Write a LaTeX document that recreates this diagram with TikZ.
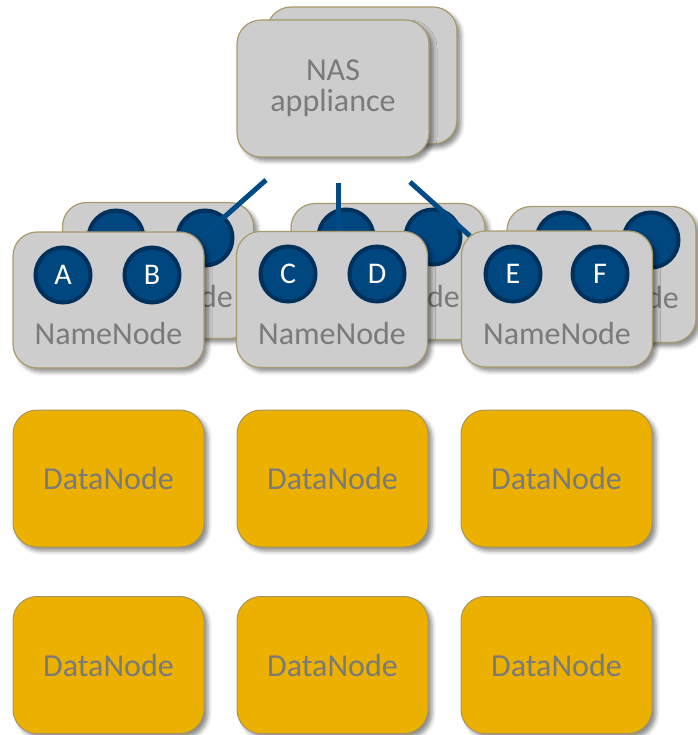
\documentclass[tikz,border=0pt]{standalone}
\usepackage{fontspec}
\setmainfont{Carlito}
\usetikzlibrary{shadows.blur}

\definecolor{boxgray}{HTML}{CDCDCD}
\definecolor{boxrim}{HTML}{A89A6C}
\definecolor{datagold}{HTML}{EBB000}
\definecolor{datarim}{HTML}{A8955C}
\definecolor{labelgray}{HTML}{7A7A7A}
\definecolor{diskblue}{HTML}{00467F}
\definecolor{diskrim}{HTML}{00305C}
\definecolor{linkblue}{HTML}{004A86}

\tikzset{
  softshadow/.style={blur shadow={shadow xshift=4pt, shadow yshift=-4pt,
      shadow blur radius=4pt, shadow opacity=45}},
  serverbox/.style={rectangle, rounded corners=24pt, fill=boxgray, draw=boxrim,
      line width=1.2pt, minimum width=191pt, minimum height=136pt,
      inner sep=0pt, softshadow},
  databox/.style={rectangle, rounded corners=24pt, fill=datagold, draw=datarim,
      line width=1pt, minimum width=191pt, minimum height=137pt,
      inner sep=0pt, softshadow, text=labelgray,
      font=\fontsize{32}{31}\selectfont},
  boxlabel/.style={text=labelgray, font=\fontsize{32}{31}\selectfont,
      inner sep=0pt, align=center},
  disk/.style={circle, minimum size=55pt, inner sep=0pt, fill=diskblue,
      draw=diskrim, line width=4pt, text=white,
      font=\fontsize{30}{30}\selectfont},
  link/.style={draw=linkblue, line width=5pt},
}

\begin{document}
\begin{tikzpicture}[x=1pt, y=-1pt]
\useasboundingbox (0,0) rectangle (697,735);

% NAS appliance pair
\node[serverbox, minimum width=190pt, minimum height=137pt] (nasback) at (362,75.5) {};
\node[serverbox, minimum width=192pt, minimum height=137pt] (nas) at (333,88.5) {};
\node[boxlabel] (naslabel) at (333,88) {NAS\\appliance};

% standby NameNodes, behind the active ones (only the tail of the label shows)
\node[serverbox] (nnb1) at (158,270.5) {};
\node[disk] (db1a) at (116,238) {};
\node[disk] (db1b) at (205,238) {};
\node[boxlabel, anchor=base east] (tb1) at (233,307) {de};

\node[serverbox, minimum width=194pt] (nnb2) at (388,271.5) {};
\node[disk] (db2a) at (346,237) {};
\node[disk] (db2b) at (433,237) {};
\node[boxlabel, anchor=base east] (tb2) at (460,307) {de};

\node[serverbox, minimum width=189pt] (nnb3) at (601.5,274.5) {};
\node[disk] (db3a) at (564,240) {};
\node[disk] (db3b) at (651,240) {};
\node[boxlabel, anchor=base east] (tb3) at (679,308) {de};

% links from the NAS appliance
\coordinate (l1s) at (266,180);
\coordinate (l1e) at (203,236);
\coordinate (l2s) at (338,183);
\coordinate (l2e) at (338,232);
\coordinate (l3s) at (410,182);
\coordinate (l3e) at (470,236);
\draw[link] (l1s) -- (l1e);
\draw[link] (l2s) -- (l2e);
\draw[link] (l3s) -- (l3e);

% active NameNodes
\node[serverbox] (nn1) at (108.5,300) {};
\node[disk] (dA) at (63,275) {A};
\node[disk] (dB) at (152,275) {B};
\node[boxlabel] (t1) at (108.5,334) {NameNode};

\node[serverbox] (nn2) at (332,299.5) {};
\node[disk] (dC) at (288,274) {C};
\node[disk] (dD) at (377,274) {D};
\node[boxlabel] (t2) at (332,334) {NameNode};

\node[serverbox] (nn3) at (557,299) {};
\node[disk] (dE) at (513,274) {E};
\node[disk] (dF) at (600,274) {F};
\node[boxlabel] (t3) at (557,334) {NameNode};

% DataNodes
\node[databox] (dn11) at (108.5,478.5) {DataNode};
\node[databox] (dn12) at (332.5,478.5) {DataNode};
\node[databox] (dn13) at (556.5,478.5) {DataNode};
\node[databox] (dn21) at (108.5,665) {DataNode};
\node[databox] (dn22) at (332.5,665) {DataNode};
\node[databox] (dn23) at (556.5,665) {DataNode};
\end{tikzpicture}
\end{document}
